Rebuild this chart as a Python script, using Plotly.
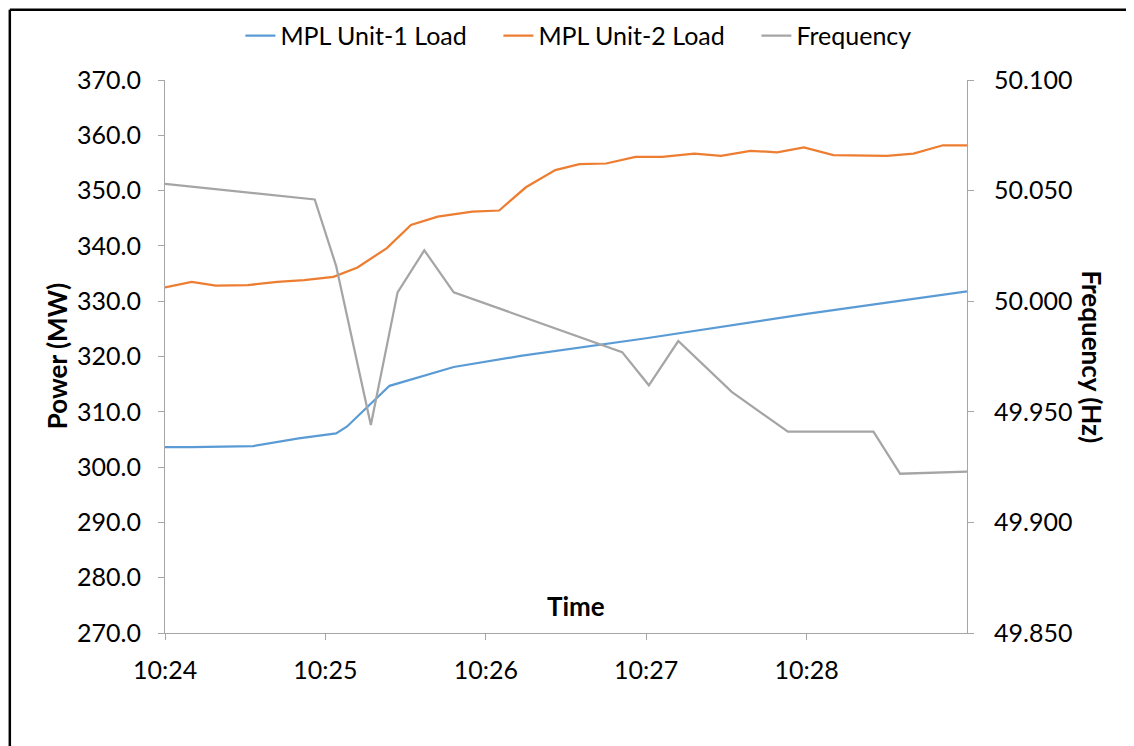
import plotly.graph_objs as go

# time stamps (hh:mm:ss) and readings taken off the chart
day = '2020-01-01 '

unit1_time = ['10:24:00', '10:24:10', '10:24:33', '10:24:50', '10:25:04', '10:25:08',
              '10:25:24', '10:25:31', '10:25:48', '10:26:13', '10:27:00', '10:28:00', '10:29:00']
unit1_load = [303.6, 303.6, 303.8, 305.2, 306.1, 307.3,
              314.7, 315.7, 318.1, 320.1, 323.3, 327.7, 331.8]

unit2_time = ['10:24:00', '10:24:10', '10:24:19', '10:24:31', '10:24:42', '10:24:52',
              '10:25:03', '10:25:12', '10:25:23', '10:25:32', '10:25:42', '10:25:55',
              '10:26:05', '10:26:15', '10:26:26', '10:26:35', '10:26:45', '10:26:56',
              '10:27:06', '10:27:18', '10:27:28', '10:27:39', '10:27:49', '10:27:59',
              '10:28:10', '10:28:25', '10:28:30', '10:28:40', '10:28:51', '10:29:00']
unit2_load = [332.5, 333.5, 332.8, 332.9, 333.5, 333.8,
              334.4, 336.1, 339.6, 343.8, 345.3, 346.2,
              346.4, 350.6, 353.7, 354.8, 354.9, 356.1,
              356.1, 356.7, 356.3, 357.2, 356.9, 357.8,
              356.4, 356.4, 356.3, 356.7, 358.2, 358.2]

freq_time = ['10:24:00', '10:24:56', '10:25:04', '10:25:17', '10:25:27', '10:25:37',
             '10:25:48', '10:26:51', '10:27:01', '10:27:12', '10:27:32', '10:27:53',
             '10:28:25', '10:28:35', '10:29:00']
frequency = [50.053, 50.046, 50.016, 49.944, 50.004, 50.023,
             50.004, 49.977, 49.962, 49.982, 49.959, 49.941,
             49.941, 49.922, 49.923]

x_ticks = ['10:24', '10:25', '10:26', '10:27', '10:28']

FONT = 'Lato'
AXIS_GREY = '#A6A6A6'

fig = go.Figure()
fig.add_trace(go.Scatter(x=[day + t for t in unit1_time], y=unit1_load, mode='lines',
                         name='MPL Unit-1 Load', line=dict(color='#5B9BD5', width=2.25)))
fig.add_trace(go.Scatter(x=[day + t for t in unit2_time], y=unit2_load, mode='lines',
                         name='MPL Unit-2 Load', line=dict(color='#ED7D31', width=2.25)))
fig.add_trace(go.Scatter(x=[day + t for t in freq_time], y=frequency, mode='lines',
                         name='Frequency', yaxis='y2', line=dict(color='#A5A5A5', width=2.25)))

# the page puts the figure 8px in from the top-left corner, margins allow for that
fig.update_layout(
    width=1134, height=746,
    margin=dict(l=157, r=175, t=72, b=121, autoexpand=False),
    paper_bgcolor='white', plot_bgcolor='white',
    font=dict(family=FONT, size=25, color='#000000'),
    showlegend=True,
    legend=dict(orientation='h', x=0.094, xanchor='left', y=1.0796, yanchor='middle',
                font=dict(size=25), itemwidth=30, tracegroupgap=0,
                entrywidth=213, entrywidthmode='pixels'),
    xaxis=dict(type='date', range=[day + '10:24:00', day + '10:29:00'],
               tickvals=[day + t + ':00' for t in x_ticks], ticktext=x_ticks,
               showgrid=False, zeroline=False, showline=True, linecolor=AXIS_GREY, linewidth=1,
               ticks='outside', ticklen=6, tickcolor=AXIS_GREY, ticklabelstandoff=9),
    yaxis=dict(range=[270, 370], dtick=10, tickformat='.1f',
               showgrid=False, zeroline=False, showline=True, linecolor=AXIS_GREY, linewidth=1,
               ticks='outside', ticklen=6, tickcolor=AXIS_GREY, ticklabelstandoff=12),
    yaxis2=dict(range=[49.85, 50.1], dtick=0.05, tickformat='.3f', overlaying='y', side='right',
                showgrid=False, zeroline=False, showline=True, linecolor=AXIS_GREY, linewidth=1,
                ticks='outside', ticklen=6, tickcolor=AXIS_GREY, ticklabelstandoff=15),
    annotations=[
        dict(text='<b>Power (MW)</b>', xref='paper', yref='paper', x=-0.135, y=0.5,
             textangle=-90, showarrow=False, xanchor='center', yanchor='middle', font=dict(size=26)),
        dict(text='<b>Frequency (Hz)</b>', xref='paper', yref='paper', x=1.156, y=0.5,
             textangle=90, showarrow=False, xanchor='center', yanchor='middle', font=dict(size=26)),
        dict(text='<b>Time</b>', xref='paper', yref='paper', x=0.513, y=0.049,
             showarrow=False, xanchor='center', yanchor='middle', font=dict(size=26)),
    ],
    # black frame of the chart: only its left and top edges fall inside the picture
    shapes=[
        dict(type='line', xref='paper', yref='paper', x0=-0.1935, x1=-0.1935, y0=-0.3, y1=1.127,
             line=dict(color='black', width=2.5), layer='below'),
        dict(type='line', xref='paper', yref='paper', x0=-0.1935, x1=1.3, y0=1.127, y1=1.127,
             line=dict(color='black', width=2.5), layer='below'),
    ],
)

fig.write_html('out.html')
